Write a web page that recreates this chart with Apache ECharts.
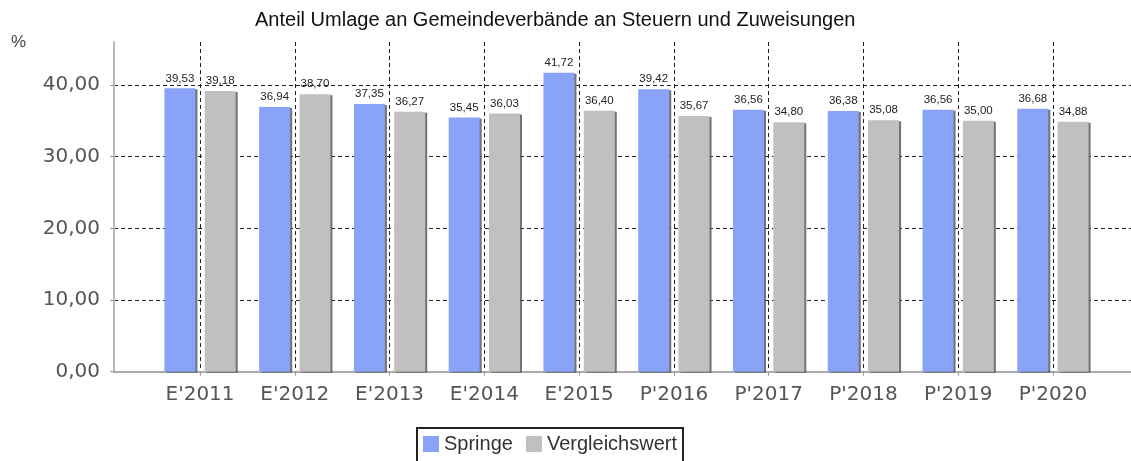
<!DOCTYPE html>
<html><head><meta charset="utf-8">
<script src="https://cdn.jsdelivr.net/npm/echarts@6.0.0/dist/echarts.min.js"></script>
<style>html,body{margin:0;padding:0;background:#fff}#c{width:1131px;height:461px}</style>
</head><body><div id="c"></div>
<script>
const titleText = 'Anteil Umlage an Gemeindeverbände an Steuern und Zuweisungen';
const unitText = '%';
const categories = ["E'2011", "E'2012", "E'2013", "E'2014", "E'2015", "P'2016", "P'2017", "P'2018", "P'2019", "P'2020"];
const seriesNames = ['Springe', 'Vergleichswert'];
const springe = [39.53, 36.94, 37.35, 35.45, 41.72, 39.42, 36.56, 36.38, 36.56, 36.68];
const vergleichswert = [39.18, 38.70, 36.27, 36.03, 36.40, 35.67, 34.80, 35.08, 35.00, 34.88];
const yTicks = [0, 10, 20, 30, 40];

const fmt = v => v.toFixed(2).replace('.', ',');
const toPoints = arr => arr.map((v, i) => [i, v]);
const catIdx = categories.map((c, i) => i);
const isInt = v => Math.abs(v - Math.round(v)) < 1e-6;

const chart = echarts.init(document.getElementById('c'), null, {renderer: 'canvas'});
const dash = {color: '#222', type: [4, 3], width: 1};
const barLabel = {
  show: true, position: 'top', distance: 4,
  formatter: p => fmt(p.value[1]),
  fontFamily: 'Liberation Sans', fontSize: 11.5, color: '#222'
};
const option = {
  animation: false,
  title: {
    text: titleText, left: 250, top: 5,
    textStyle: {fontFamily: 'Liberation Sans', fontSize: 20, fontWeight: 'normal', color: '#111'}
  },
  graphic: [{
    type: 'text', left: 11, top: 34,
    style: {text: unitText, fontFamily: 'Liberation Sans', fontSize: 17, fill: '#444'}
  }],
  legend: {
    data: seriesNames, left: 417, top: 428, icon: 'rect',
    itemWidth: 16, itemHeight: 16, itemGap: 13,
    padding: [6, 6, 20, 6], borderColor: '#222', borderWidth: 2,
    textStyle: {fontFamily: 'Liberation Sans', fontSize: 20, color: '#333'},
    itemStyle: {shadowBlur: 0, shadowOffsetX: 0, shadowOffsetY: 0, shadowColor: 'rgba(0,0,0,0)'}
  },
  grid: {left: 114, right: -8, top: 42, bottom: 89.3, containLabel: false, outerBoundsMode: 'none'},
  xAxis: {
    type: 'value', min: -0.908, max: 9.908, splitNumber: 10,
    axisLine: {show: true, onZero: false, lineStyle: {color: '#aaa', width: 2}},
    axisTick: {show: true, length: 4, lineStyle: {color: '#999'}, customValues: catIdx},
    axisLabel: {
      customValues: catIdx,
      formatter: v => (isInt(v) && categories[Math.round(v)] !== undefined) ? categories[Math.round(v)] : '',
      fontFamily: 'DejaVu Sans', fontSize: 20, color: '#555', margin: 13
    },
    splitLine: {show: true, lineStyle: dash}
  },
  yAxis: {
    type: 'value', min: 0, max: 46, interval: 10,
    axisLine: {show: true, onZero: false, lineStyle: {color: '#bbb', width: 2}},
    axisTick: {show: true, length: 4, lineStyle: {color: '#999'}, customValues: yTicks},
    axisLabel: {
      customValues: yTicks,
      formatter: v => (v % 10 === 0) ? fmt(v) : '',
      fontFamily: 'DejaVu Sans', fontSize: 20, color: '#555', margin: 14
    },
    splitLine: {show: true, showMinLine: false, lineStyle: dash}
  },
  series: [
    {
      name: seriesNames[0], type: 'bar', data: toPoints(springe),
      barWidth: 31, barGap: '30%',
      itemStyle: {color: '#88a3f7', shadowColor: 'rgba(90,90,90,0.85)', shadowOffsetX: 2, shadowOffsetY: 1, shadowBlur: 0},
      label: barLabel
    },
    {
      name: seriesNames[1], type: 'bar', data: toPoints(vergleichswert),
      barWidth: 31, barGap: '30%',
      itemStyle: {color: '#c0c0c0', shadowColor: 'rgba(90,90,90,0.85)', shadowOffsetX: 2, shadowOffsetY: 1, shadowBlur: 0},
      label: barLabel
    }
  ]
};
chart.setOption(option);
</script>
</body></html>
